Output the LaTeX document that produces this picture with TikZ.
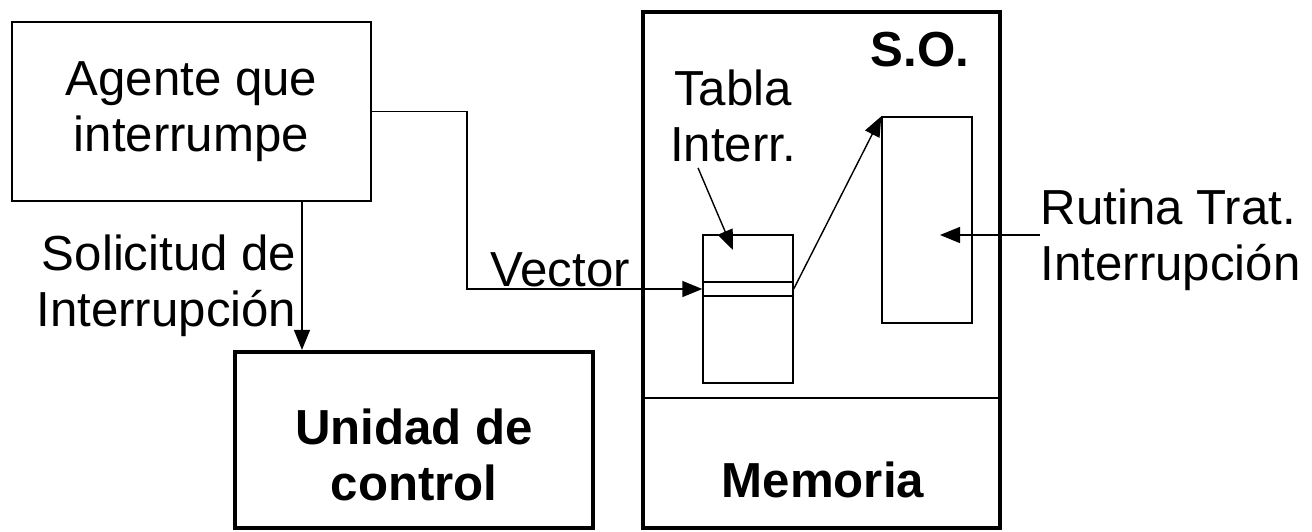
\documentclass[tikz,border=0pt]{standalone}
\usepackage{fontspec}
\setmainfont{Liberation Sans}
\usepackage{tikz}
\usetikzlibrary{arrows.meta}
\usetikzlibrary{positioning}

\begin{document}
\begin{tikzpicture}[
		x=0.02cm,
		y=-0.02cm,
		>={Triangle[length=0.4cm,width=0.32cm]},
		line width=0.8pt,
		font=\fontsize{28}{32}\selectfont,
		main node/.style={inner sep=0pt, align=center}
		,
		bold node/.style={
			main node,
			font=\fontsize{28}{32}\selectfont\bfseries
		}
		,
		thin box/.style={
			draw,
			rectangle,
			line width=0.8pt,
			inner sep=0pt
		}
		,
		thick box/.style={
			draw,
			rectangle,
			line width=2.4pt,
			inner sep=0pt
		}
		]
		
		\useasboundingbox (0,0) rectangle (1312,531);
		
		\node[thin box, line width=1.3pt, align=center, minimum width=7.18cm, minimum height=3.58cm] (agente) at (191.5,111.5) {Agente que\\interrumpe};
		\node[thick box, minimum width=7.16cm, minimum height=3.52cm] (unidad) at (414,440) {};
		\node[thick box, minimum width=7.14cm, minimum height=10.32cm] (memoria) at (821.5,270) {};
		\node[thin box, minimum width=1.8cm, minimum height=2.96cm] (tabla) at (748,309) {};
		\node[thin box, minimum width=1.8cm, minimum height=0.28cm] (entrada) at (748,289) {};
		\node[thin box, minimum width=1.8cm, minimum height=4.12cm] (rutina) at (927,220) {};
		
		\node[bold node] (unilab) at (414,455) {Unidad de\\control};
		\node[bold node] (so) at (920,50) {S.O.};
		\node[bold node] (memlab) at (823,480) {Memoria};
		\node[main node] (tablab) at (733,116) {Tabla\\Interr.};
		\node[main node, align=right, anchor=east] (sollab) at (297,286) {Solicitud de\\Interrupción};
		\node[main node, anchor=base] (veclab) at (560,286) {Vector};
		\node[main node, align=left, anchor=west] (rutlab) at (1040,240) {Rutina Trat.\\Interrupción};
		
		\coordinate (tabpunto) at (733,250);
		\coordinate (rutpunto) at (940,235);
		
		\draw (memoria.west |- 0,398) -- (memoria.east |- 0,398);
		
		\draw[->] ([xshift=2.21cm]agente.south) -- ([xshift=2.21cm]agente.south |- unidad.north);
		\draw[->] (agente.east) -- ++(95,0) |- (entrada.west);
		\draw[->] ([xshift=-0.7cm,yshift=-0.1cm]tablab.south) -- (tabpunto);
		\draw[->] (entrada.east) -- (rutina.north west);
		\draw[->] (rutlab.west |- rutpunto) -- (rutpunto);
	\end{tikzpicture}
\end{document}
